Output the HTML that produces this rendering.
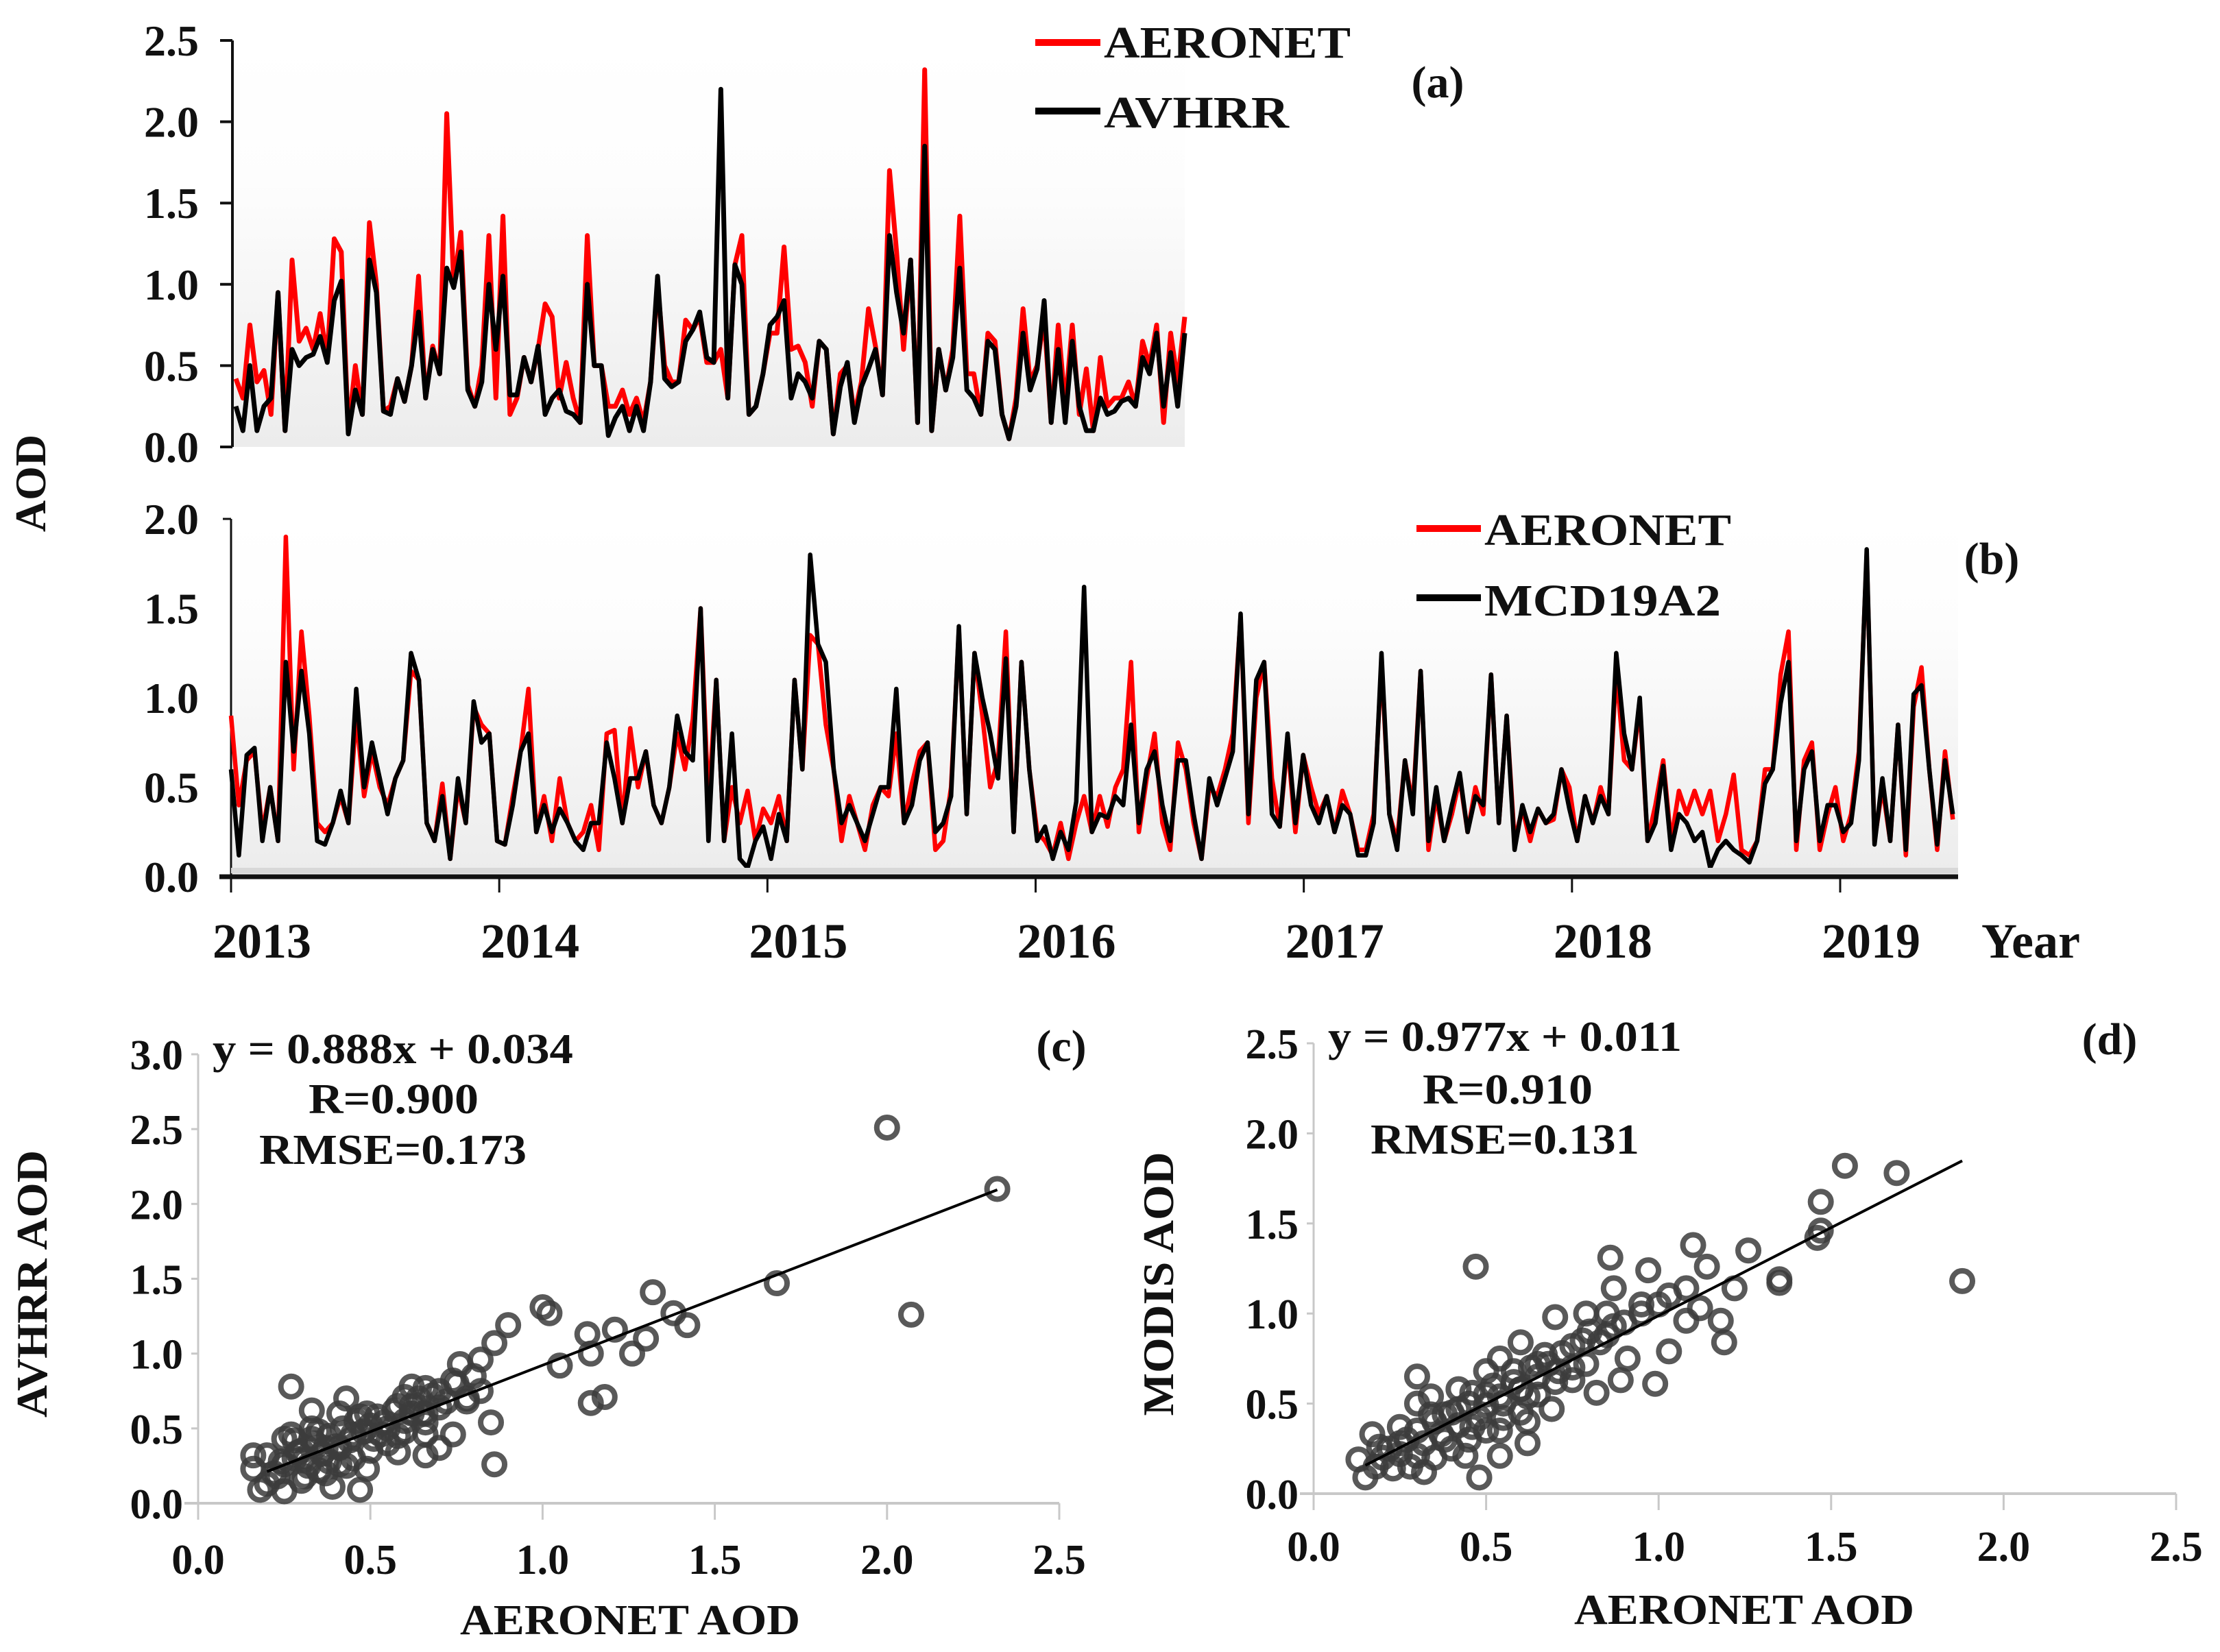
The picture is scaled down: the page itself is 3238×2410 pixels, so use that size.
<!DOCTYPE html>
<html><head><meta charset="utf-8"><style>
html,body{margin:0;padding:0;background:#fff;}
svg{display:block;}
text{font-family:"Liberation Serif",serif;font-weight:bold;fill:#111;}
</style></head>
<body>
<svg id="fig" width="3238" height="2410" viewBox="0 0 3238 2410" xmlns="http://www.w3.org/2000/svg">
<defs>
<linearGradient id="bgA" x1="0" y1="0" x2="0" y2="1"><stop offset="0" stop-color="#fff"/><stop offset="0.35" stop-color="#fdfdfd"/><stop offset="1" stop-color="#ececec"/></linearGradient>
<linearGradient id="bgB" x1="0" y1="0" x2="0" y2="1"><stop offset="0" stop-color="#fff"/><stop offset="0.3" stop-color="#fdfdfd"/><stop offset="1" stop-color="#ececec"/></linearGradient>
</defs>
<g id="pa"></g>
<g id="pb"></g>
<g id="pc"></g>
<g id="pd"></g>
</svg>
<script>
// ---------- Panel (a) data ----------
const aStart = 2013.0, aEnd = 2016.56;
const aAeronet = [0.42,0.3,0.75,0.4,0.47,0.2,0.95,0.1,1.15,0.65,0.73,0.6,0.82,0.55,1.28,1.2,0.1,0.5,0.2,1.38,1.0,0.22,0.25,0.42,0.28,0.5,1.05,0.3,0.62,0.45,2.05,1.0,1.32,0.38,0.25,0.5,1.3,0.3,1.42,0.2,0.3,0.55,0.4,0.6,0.88,0.8,0.3,0.52,0.3,0.15,1.3,0.5,0.5,0.25,0.25,0.35,0.2,0.3,0.15,0.4,1.0,0.5,0.4,0.4,0.78,0.72,0.8,0.52,0.52,0.6,0.3,1.12,1.3,0.2,0.25,0.45,0.7,0.7,1.23,0.6,0.62,0.52,0.25,0.65,0.6,0.08,0.45,0.5,0.2,0.4,0.85,0.62,0.32,1.7,1.2,0.6,1.15,0.15,2.32,0.1,0.6,0.35,0.6,1.42,0.45,0.45,0.2,0.7,0.65,0.2,0.05,0.3,0.85,0.4,0.5,0.8,0.15,0.75,0.25,0.75,0.2,0.48,0.1,0.55,0.25,0.3,0.3,0.4,0.25,0.65,0.5,0.75,0.15,0.7,0.4,0.8];
const aAvhrr = [0.25,0.1,0.5,0.1,0.25,0.3,0.95,0.1,0.6,0.5,0.55,0.57,0.68,0.52,0.9,1.02,0.08,0.35,0.2,1.15,0.95,0.22,0.2,0.42,0.28,0.5,0.83,0.3,0.6,0.45,1.1,0.98,1.2,0.35,0.25,0.4,1.0,0.6,1.05,0.32,0.32,0.55,0.4,0.62,0.2,0.3,0.35,0.22,0.2,0.15,1.0,0.5,0.5,0.07,0.18,0.25,0.1,0.25,0.1,0.4,1.05,0.42,0.37,0.4,0.65,0.72,0.83,0.55,0.52,2.2,0.3,1.12,1.0,0.2,0.25,0.45,0.75,0.8,0.9,0.3,0.45,0.4,0.3,0.65,0.6,0.08,0.37,0.52,0.15,0.37,0.48,0.6,0.32,1.3,0.95,0.7,1.15,0.15,1.85,0.1,0.6,0.35,0.55,1.1,0.35,0.3,0.2,0.65,0.6,0.2,0.05,0.25,0.7,0.35,0.48,0.9,0.15,0.6,0.15,0.65,0.25,0.1,0.1,0.3,0.2,0.22,0.28,0.3,0.25,0.55,0.45,0.7,0.25,0.58,0.25,0.7];
const aYTicks = ["0.0","0.5","1.0","1.5","2.0","2.5"];

// ---------- Panel (b) data ----------
const bStart = 2013.0, bEnd = 2019.42;
const bAeronet = [0.9,0.4,0.65,0.7,0.25,0.5,0.2,1.9,0.6,1.37,0.9,0.3,0.25,0.3,0.45,0.3,0.9,0.45,0.7,0.5,0.4,0.55,0.65,1.15,1.1,0.3,0.2,0.52,0.1,0.5,0.3,0.95,0.85,0.8,0.2,0.18,0.45,0.7,1.05,0.25,0.45,0.2,0.55,0.3,0.2,0.25,0.4,0.15,0.8,0.82,0.3,0.83,0.5,0.7,0.4,0.3,0.5,0.8,0.6,0.88,1.5,0.4,1.1,0.2,0.5,0.3,0.48,0.2,0.38,0.3,0.45,0.2,1.1,0.6,1.35,1.3,0.85,0.6,0.2,0.45,0.3,0.15,0.4,0.5,0.45,0.8,0.3,0.52,0.7,0.75,0.15,0.2,0.5,1.38,0.35,1.25,0.9,0.5,0.65,1.37,0.25,1.2,0.6,0.25,0.2,0.12,0.3,0.1,0.3,0.45,0.25,0.45,0.28,0.5,0.6,1.2,0.25,0.55,0.8,0.3,0.15,0.75,0.6,0.3,0.1,0.5,0.45,0.6,0.8,1.45,0.3,1.0,1.2,0.55,0.28,0.75,0.25,0.68,0.5,0.35,0.45,0.25,0.48,0.35,0.15,0.15,0.35,1.2,0.35,0.2,0.65,0.4,1.15,0.15,0.45,0.2,0.35,0.55,0.25,0.5,0.35,1.13,0.3,0.9,0.2,0.38,0.2,0.38,0.3,0.32,0.6,0.5,0.2,0.45,0.3,0.5,0.35,1.15,0.65,0.6,0.95,0.2,0.4,0.65,0.2,0.48,0.35,0.48,0.35,0.48,0.2,0.35,0.57,0.15,0.12,0.2,0.6,0.6,1.13,1.37,0.15,0.65,0.75,0.15,0.35,0.5,0.2,0.35,0.7,1.8,0.2,0.5,0.2,0.85,0.12,0.95,1.17,0.6,0.15,0.7,0.32];
const bMcd = [0.6,0.12,0.68,0.72,0.2,0.5,0.2,1.2,0.7,1.15,0.8,0.2,0.18,0.3,0.48,0.3,1.05,0.5,0.75,0.55,0.35,0.55,0.65,1.25,1.1,0.3,0.2,0.45,0.1,0.55,0.3,0.98,0.75,0.8,0.2,0.18,0.4,0.7,0.8,0.25,0.4,0.25,0.38,0.3,0.2,0.15,0.3,0.3,0.75,0.55,0.3,0.55,0.55,0.7,0.4,0.3,0.5,0.9,0.7,0.65,1.5,0.2,1.1,0.2,0.8,0.1,0.05,0.2,0.28,0.1,0.35,0.2,1.1,0.6,1.8,1.3,1.2,0.6,0.3,0.4,0.3,0.2,0.35,0.5,0.5,1.05,0.3,0.4,0.65,0.75,0.25,0.3,0.45,1.4,0.35,1.25,1.0,0.8,0.55,1.22,0.25,1.2,0.6,0.2,0.28,0.1,0.25,0.15,0.42,1.62,0.25,0.35,0.33,0.45,0.4,0.85,0.3,0.6,0.7,0.4,0.2,0.65,0.65,0.35,0.1,0.55,0.4,0.55,0.7,1.47,0.35,1.1,1.2,0.35,0.28,0.8,0.3,0.68,0.4,0.3,0.45,0.25,0.4,0.35,0.12,0.12,0.3,1.25,0.35,0.15,0.65,0.35,1.15,0.2,0.5,0.2,0.4,0.58,0.25,0.45,0.4,1.13,0.3,0.9,0.15,0.4,0.25,0.38,0.3,0.35,0.6,0.38,0.2,0.45,0.3,0.45,0.35,1.25,0.8,0.6,1.0,0.2,0.3,0.62,0.15,0.35,0.3,0.2,0.25,0.05,0.15,0.2,0.15,0.12,0.08,0.2,0.52,0.6,0.97,1.2,0.2,0.6,0.7,0.2,0.4,0.4,0.25,0.3,0.65,1.83,0.18,0.55,0.2,0.85,0.15,1.02,1.07,0.6,0.18,0.65,0.35];
const bYTicks = ["0.0","0.5","1.0","1.5","2.0"];
const years = ["2013","2014","2015","2016","2017","2018","2019"];

// ---------- Panel (c) data ----------
const cX = [2.32,2.0,2.07,1.68,1.32,1.42,1.38,1.0,1.02,0.9,0.86,1.05,1.13,1.21,1.14,1.26,1.3,1.14,1.18,0.86,0.85,0.82,0.76,0.74,0.66,0.6,0.74,0.7,0.66,0.58,0.54,0.47,0.43,0.33,0.27,0.27,0.2,0.16,0.2,0.25,0.31,0.39,0.47,0.49,0.58,0.66,0.41,0.35,0.25,0.41,0.51,0.6,0.66,0.7,0.41,0.37,0.29,0.23,0.31,0.45,0.53,0.62,0.78,0.82,0.66,0.49,0.37,0.18,0.16,0.33,0.25,
  0.22,0.24,0.28,0.3,0.32,0.34,0.36,0.38,0.4,0.42,0.44,0.46,0.48,0.5,0.52,0.55,0.57,0.6,0.62,0.64,0.68,0.72,0.75,0.8,0.3,0.35,0.45,0.55,0.65,0.28,0.33,0.38,0.43,0.5,0.58,0.7,0.78,0.62];
const cY = [2.1,2.51,1.26,1.47,1.41,1.19,1.27,1.31,1.27,1.19,1.07,0.92,1.13,1.16,1.0,1.0,1.1,0.67,0.71,0.26,0.54,0.96,0.93,0.82,0.77,0.71,0.46,0.37,0.6,0.65,0.54,0.58,0.7,0.62,0.78,0.46,0.32,0.23,0.13,0.08,0.18,0.11,0.09,0.23,0.34,0.32,0.37,0.48,0.26,0.26,0.43,0.48,0.54,0.64,0.6,0.37,0.34,0.18,0.29,0.46,0.46,0.6,0.68,0.75,0.46,0.6,0.2,0.09,0.32,0.43,0.43,
  0.2,0.28,0.3,0.35,0.25,0.4,0.33,0.45,0.38,0.5,0.42,0.55,0.48,0.52,0.58,0.5,0.62,0.55,0.65,0.7,0.72,0.68,0.8,0.85,0.15,0.22,0.3,0.4,0.6,0.42,0.5,0.28,0.25,0.35,0.45,0.75,0.7,0.78];
const cFit = [0.888, 0.034], cFitRange = [0.2, 2.32];
const cXTicks = ["0.0","0.5","1.0","1.5","2.0","2.5"];
const cYTicks = ["0.0","0.5","1.0","1.5","2.0","2.5","3.0"];

// ---------- Panel (d) data ----------
const dX = [1.54,1.69,1.88,1.47,1.47,1.46,1.1,1.26,1.35,1.35,1.19,1.03,0.86,0.97,1.14,1.08,1.22,1.08,0.95,0.87,0.89,0.82,0.79,0.87,0.7,0.79,0.47,0.48,0.54,0.62,0.69,0.6,0.54,0.6,0.67,0.71,0.5,0.46,0.42,0.3,0.34,0.25,0.19,0.13,0.15,0.23,0.32,0.38,0.44,0.54,0.62,0.75,0.5,0.38,0.25,0.3,0.58,0.65,0.75,0.83,0.91,0.99,0.34,0.46,0.62,0.17,0.42,0.54,1.12,1.18,1.03,
  0.18,0.2,0.22,0.25,0.27,0.3,0.32,0.35,0.37,0.4,0.42,0.45,0.48,0.5,0.52,0.55,0.58,0.6,0.63,0.65,0.68,0.72,0.75,0.78,0.8,0.85,0.9,0.95,1.0,0.28,0.35,0.4,0.45,0.55,0.65,0.7,0.3,0.5,0.6,0.85];
const dY = [1.82,1.78,1.18,1.62,1.46,1.42,1.38,1.35,1.19,1.17,0.84,0.79,1.31,1.24,1.26,1.14,1.14,0.96,1.05,0.93,0.63,0.56,0.72,1.14,0.98,1.0,1.26,0.09,0.21,0.4,0.47,0.58,0.75,0.84,0.77,0.68,0.68,0.56,0.47,0.65,0.44,0.37,0.26,0.19,0.09,0.14,0.12,0.3,0.21,0.35,0.54,0.63,0.49,0.44,0.28,0.21,0.68,0.72,0.82,0.84,0.75,0.61,0.54,0.37,0.28,0.33,0.58,0.54,1.03,0.96,1.1,
  0.15,0.2,0.25,0.22,0.3,0.35,0.28,0.4,0.33,0.45,0.38,0.5,0.42,0.55,0.6,0.5,0.62,0.58,0.7,0.65,0.72,0.78,0.7,0.85,0.9,0.88,0.95,1.0,1.05,0.15,0.2,0.25,0.3,0.42,0.55,0.62,0.5,0.35,0.45,1.0];
const dFit = [0.977, 0.011], dFitRange = [0.15, 1.88];
const dXTicks = ["0.0","0.5","1.0","1.5","2.0","2.5"];
const dYTicks = ["0.0","0.5","1.0","1.5","2.0","2.5"];

const NS = "http://www.w3.org/2000/svg";
function mk(parent, tag, attrs, txt){
  const e = document.createElementNS(NS, tag);
  for (const k in attrs) e.setAttribute(k, attrs[k]);
  if (txt !== undefined) e.textContent = txt;
  parent.appendChild(e);
  return e;
}
function lin(d0,d1,r0,r1){ return v => r0 + (v-d0)/(d1-d0)*(r1-r0); }

// ===== Panel (a) =====
(function(){
  const g = document.getElementById('pa');
  const X = lin(2013, 2016.56, 344, 1728), Y = lin(0, 2.5, 652, 59);
  const bg = mk(g,'rect',{x:341,y:59,width:1387,height:593,fill:'url(#bgA)'});
  
  
  const ax = mk(g,'line',{x1:339,y1:Y(2.5),x2:339,y2:Y(0),stroke:'#111','stroke-width':4});
  
  
  aYTicks.forEach((t,i)=>{
    const v = parseFloat(t);
    const tk = mk(g,'line',{x1:321,y1:Y(v),x2:339,y2:Y(v),stroke:'#111','stroke-width':4});
    
    
    const tl = mk(g,'text',{x:290,y:Y(v)+22,'font-size':64,'text-anchor':'end'},t);
    
    
  });
  function series(vals, color, name){
    const n = vals.length;
    const pts = vals.map((v,i)=>X(aStart + i*(aEnd-aStart)/(n-1)).toFixed(1)+','+Y(v).toFixed(1)).join(' ');
    const p = mk(g,'polyline',{points:pts,fill:'none',stroke:color,'stroke-width':7,'stroke-linejoin':'round'});
    
    
  }
  series(aAeronet,'#ff0000','aeronet-line-a');
  series(aAvhrr,'#000000','avhrr-line-a');
  const l1 = mk(g,'line',{x1:1510,y1:62,x2:1605,y2:62,stroke:'#ff0000','stroke-width':10});
  
  
  const t1 = mk(g,'text',{x:1610,y:84,'font-size':66,textLength:360,lengthAdjust:'spacingAndGlyphs'},'AERONET');
  
  
  const l2 = mk(g,'line',{x1:1510,y1:162,x2:1605,y2:162,stroke:'#000','stroke-width':10});
  
  
  const t2 = mk(g,'text',{x:1610,y:186,'font-size':66,textLength:270,lengthAdjust:'spacingAndGlyphs'},'AVHRR');
  
  
  const pl = mk(g,'text',{x:2097,y:142,'font-size':66,'text-anchor':'middle'},'(a)');
  
  
  const yt = mk(g,'text',{x:0,y:0,'font-size':64,'text-anchor':'middle',transform:'translate(66,705) rotate(-90)'},'AOD');
  
  
})();

// ===== Panel (b) =====
(function(){
  const g = document.getElementById('pb');
  const X = lin(2013, 2019, 337, 2684), Y = lin(0, 2.0, 1279, 757);
  const bg = mk(g,'rect',{x:339,y:757,width:2517,height:518,fill:'url(#bgB)'});
  
  
  const ax = mk(g,'line',{x1:337,y1:757,x2:337,y2:1279,stroke:'#111','stroke-width':3});
  
  
  bYTicks.forEach(t=>{
    const v = parseFloat(t);
    const tl = mk(g,'text',{x:290,y:Y(v)+22,'font-size':64,'text-anchor':'end'},t);
    
    
  });
  const tk0 = mk(g,'line',{x1:325,y1:757,x2:337,y2:757,stroke:'#111','stroke-width':3});
  
  
  function series(vals, color, name){
    const n = vals.length;
    const pts = vals.map((v,i)=>X(bStart + i*(bEnd-bStart)/(n-1)).toFixed(1)+','+Y(v).toFixed(1)).join(' ');
    const p = mk(g,'polyline',{points:pts,fill:'none',stroke:color,'stroke-width':6.5,'stroke-linejoin':'round'});
    
    
  }
  series(bAeronet,'#ff0000','aeronet-line-b');
  series(bMcd,'#000000','mcd19a2-line-b');
  const band = mk(g,'rect',{x:337,y:1266,width:2519,height:8,fill:'#d8d8d8'});
  
  
  const xa = mk(g,'line',{x1:320,y1:1279,x2:2856,y2:1279,stroke:'#111','stroke-width':7});
  
  
  years.forEach(t=>{
    const v = parseFloat(t);
    const tk = mk(g,'line',{x1:X(v),y1:1279,x2:X(v),y2:1302,stroke:'#111','stroke-width':3});
    
    
    const tl = mk(g,'text',{x:X(v)+45,y:1397,'font-size':72,'text-anchor':'middle'},t);
    
    
  });
  const yr = mk(g,'text',{x:2890,y:1397,'font-size':72},'Year');
  
  
  const l1 = mk(g,'line',{x1:2066,y1:771,x2:2160,y2:771,stroke:'#ff0000','stroke-width':10});
  
  
  const t1 = mk(g,'text',{x:2165,y:795,'font-size':66,textLength:360,lengthAdjust:'spacingAndGlyphs'},'AERONET');
  
  
  const l2 = mk(g,'line',{x1:2066,y1:872,x2:2160,y2:872,stroke:'#000','stroke-width':10});
  
  
  const t2 = mk(g,'text',{x:2165,y:898,'font-size':66,textLength:345,lengthAdjust:'spacingAndGlyphs'},'MCD19A2');
  
  
  const pl = mk(g,'text',{x:2905,y:837,'font-size':66,'text-anchor':'middle'},'(b)');
  
  
})();

// ===== Scatter panels =====
function scatter(gid, xs, ys, fit, fitRange, xT, yT, box, texts){
  const g = document.getElementById(gid);
  const yMax = parseFloat(yT[yT.length-1]);
  const X = lin(0, 2.5, box.x0, box.x1), Y = lin(0, yMax, box.y0, box.y1);
  const ya = mk(g,'line',{x1:box.x0,y1:box.y1,x2:box.x0,y2:box.y0+8,stroke:'#c8c8c8','stroke-width':3});
  
  
  const xa = mk(g,'line',{x1:box.x0-20,y1:box.y0,x2:box.x1,y2:box.y0,stroke:'#c8c8c8','stroke-width':4});
  
  
  xT.forEach(t=>{
    const v = parseFloat(t);
    const tk = mk(g,'line',{x1:X(v),y1:box.y0,x2:X(v),y2:box.y0+24,stroke:'#c8c8c8','stroke-width':3});
    
    
    const tl = mk(g,'text',{x:X(v),y:box.xlabY,'font-size':62,'text-anchor':'middle'},t);
    
    
  });
  yT.forEach(t=>{
    const v = parseFloat(t);
    const tk = mk(g,'line',{x1:box.x0-10,y1:Y(v),x2:box.x0,y2:Y(v),stroke:'#c8c8c8','stroke-width':3});
    
    
    const tl = mk(g,'text',{x:box.x0-22,y:Y(v)+22,'font-size':62,'text-anchor':'end'},t);
    
    
  });
  xs.forEach((xv,i)=>{
    const c = mk(g,'circle',{cx:X(xv),cy:Y(ys[i]),r:15,fill:'none',stroke:'#3c3c3c','stroke-opacity':0.85,'stroke-width':8});
    
    
  });
  const fl = mk(g,'line',{x1:X(fitRange[0]),y1:Y(fit[0]*fitRange[0]+fit[1]),x2:X(fitRange[1]),y2:Y(fit[0]*fitRange[1]+fit[1]),stroke:'#000','stroke-width':4});
  
  
  texts.forEach(tt=>{
    const e = mk(g,'text',{x:tt.x,y:tt.y,'font-size':tt.fs||62,'text-anchor':tt.a||'middle'},tt.t);
    if (tt.w){ e.setAttribute('textLength',tt.w); e.setAttribute('lengthAdjust','spacingAndGlyphs'); }
    if (tt.r) e.setAttribute('transform','rotate(-90 '+tt.x+' '+tt.y+')');
    
    
  });
}
scatter('pc', cX, cY, cFit, cFitRange, cXTicks, cYTicks,
  {x0:289,x1:1545,y0:2193,y1:1538,xlabY:2296},
  [{x:573,y:1551,t:'y = 0.888x + 0.034',w:526,n:'regression-equation-c'},
   {x:574,y:1624,t:'R=0.900',w:248,n:'r-value-c'},
   {x:573,y:1698,t:'RMSE=0.173',w:390,n:'rmse-value-c'},
   {x:1548,y:1548,t:'(c)',fs:66,n:'panel-label-c'},
   {x:919,y:2384,t:'AERONET AOD',w:496,n:'x-axis-title-c'},
   {x:68,y:1873,t:'AVHRR AOD',w:390,r:true,fs:64,n:'y-axis-title-c'}]);
scatter('pd', dX, dY, dFit, dFitRange, dXTicks, dYTicks,
  {x0:1916,x1:3174,y0:2179,y1:1522,xlabY:2277},
  [{x:2195,y:1533,t:'y = 0.977x + 0.011',w:516,n:'regression-equation-d'},
   {x:2199,y:1610,t:'R=0.910',w:248,n:'r-value-d'},
   {x:2195,y:1683,t:'RMSE=0.131',w:392,n:'rmse-value-d'},
   {x:3077,y:1538,t:'(d)',fs:66,n:'panel-label-d'},
   {x:2544,y:2369,t:'AERONET AOD',w:496,n:'x-axis-title-d'},
   {x:1711,y:1873,t:'MODIS AOD',w:385,r:true,fs:64,n:'y-axis-title-d'}]);
</script>
</body></html>
